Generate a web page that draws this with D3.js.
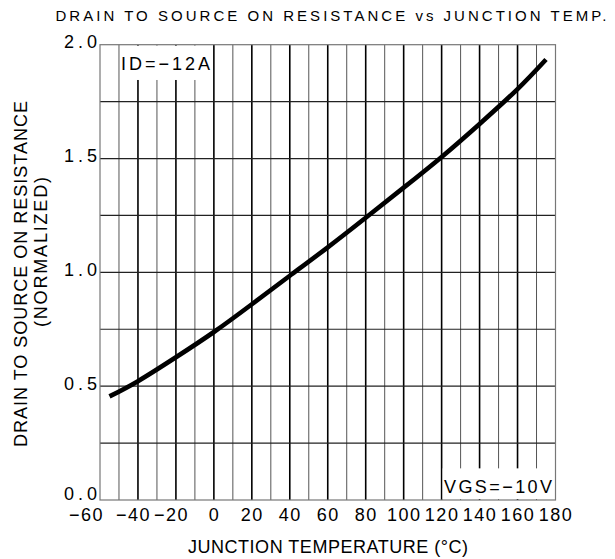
<!DOCTYPE html>
<html>
<head>
<meta charset="utf-8">
<script src="https://cdn.jsdelivr.net/npm/d3@7"></script>
<style>
  body { margin: 0; background: #fff; }
  text { font-family: 'Liberation Sans', 'DejaVu Sans', sans-serif; fill: #000; }
</style>
</head>
<body>
<div id="chart"></div>
<script>
// curve
const temps = [-55, -40, -20, 0, 20, 40, 60, 80, 100, 120, 140, 160, 175];
const resist = [0.455, 0.522, 0.627, 0.738, 0.86, 0.985, 1.11, 1.24, 1.372, 1.507, 1.652, 1.805, 1.935];

const xTicks = [-60, -40, -20, 0, 20, 40, 60, 80, 100, 120, 140, 160, 180];
const yTicks = [0, 0.5, 1.0, 1.5, 2.0];
const xGrid = d3.range(-50, 180, 10);
const yGrid = [0.25, 0.5, 0.75, 1.0, 1.25, 1.5, 1.75];

const width = 615;
const height = 559;
const plotLeft = 100, plotRight = 555.5, plotTop = 44.7, plotBottom = 500;

const x = d3.scaleLinear().domain([-60, 180]).range([plotLeft, plotRight]);
const y = d3.scaleLinear().domain([0, 2.0]).range([plotBottom, plotTop]);

const svg = d3.select('#chart').append('svg')
  .attr('width', width)
  .attr('height', height);

/* grid */
svg.append('g')
  .selectAll('line')
  .data(xGrid)
  .enter()
  .append('line')
  .attr('x1', d => x(d)).attr('x2', d => x(d))
  .attr('y1', plotTop).attr('y2', plotBottom)
  .style('stroke', d => d % 20 == 0 ? '#000' : '#555')
  .style('stroke-width', d => d % 20 == 0 ? 1.6 : 1);

svg.append('g')
  .selectAll('line')
  .data(yGrid)
  .enter()
  .append('line')
  .attr('x1', plotLeft).attr('x2', plotRight)
  .attr('y1', d => y(d)).attr('y2', d => y(d))
  .style('stroke', '#222')
  .style('stroke-width', 1.2);

// white boxes behind the two notes
svg.append('rect')
  .attr('x', x(-50) + 1).attr('y', plotTop + 1)
  .attr('width', x(0) - x(-50) - 2).attr('height', y(1.845) - plotTop - 1)
  .style('fill', '#fff');
svg.append('rect')
  .attr('x', x(120) + 1).attr('y', y(0.139))
  .attr('width', x(180) - x(120) - 2).attr('height', plotBottom - y(0.139) - 1)
  .style('fill', '#fff');

svg.append('rect')
  .attr('x', plotLeft).attr('y', plotTop)
  .attr('width', plotRight - plotLeft).attr('height', plotBottom - plotTop)
  .style('fill', 'none')
  .style('stroke', '#777')
  .style('stroke-width', 1.2);

/* axes */
const xAxis = svg.append('g')
  .attr('transform', `translate(0, ${plotBottom})`)
  .call(d3.axisBottom(x).tickValues(xTicks).tickSize(0).tickPadding(8)
    .tickFormat(d => d < 0 ? '\u2212' + Math.abs(d) : String(d)));
xAxis.select('.domain').remove();
xAxis.selectAll('text')
  .style('font-size', '18px')
  .style('letter-spacing', '1.5px')
  .attr('dx', d => d == -60 ? -14 : (d < 0 ? -5 : 0));

const yAxis = svg.append('g')
  .attr('transform', `translate(${plotLeft - 3}, 0)`)
  .call(d3.axisLeft(y).tickValues(yTicks).tickSize(0).tickPadding(0)
    .tickFormat(d3.format('.1f')));
yAxis.select('.domain').remove();
yAxis.selectAll('text')
  .style('font-size', '18px')
  .attr('dy', d => d == 0 ? '-0.02em' : '0.18em')
  .attr('textLength', 33)
  .attr('lengthAdjust', 'spacing');

/* curve */
const line = d3.line()
  .x((d, i) => x(temps[i]))
  .y(d => y(d))
  .curve(d3.curveNatural);

svg.append('path')
  .datum(resist)
  .attr('d', line)
  .style('fill', 'none')
  .style('stroke', '#000')
  .style('stroke-width', 4.6);

/* labels */
svg.append('text')
  .attr('x', 331).attr('y', 21)
  .attr('text-anchor', 'middle')
  .attr('textLength', 551).attr('lengthAdjust', 'spacing')
  .style('font-size', '15px')
  .text('DRAIN TO SOURCE ON RESISTANCE vs JUNCTION TEMP.');

svg.append('text')
  .attr('x', 328).attr('y', 553)
  .attr('text-anchor', 'middle')
  .attr('textLength', 280).attr('lengthAdjust', 'spacing')
  .style('font-size', '18px')
  .text('JUNCTION TEMPERATURE (\u00b0C)');

svg.append('text')
  .attr('transform', 'translate(27, 274) rotate(-90)')
  .attr('text-anchor', 'middle')
  .attr('textLength', 346).attr('lengthAdjust', 'spacing')
  .style('font-size', '18px')
  .text('DRAIN TO SOURCE ON RESISTANCE');

svg.append('text')
  .attr('transform', 'translate(47, 252) rotate(-90)')
  .attr('text-anchor', 'middle')
  .attr('textLength', 150).attr('lengthAdjust', 'spacing')
  .style('font-size', '18px')
  .text('(NORMALIZED)');

svg.append('text')
  .attr('x', 121).attr('y', 70)
  .attr('textLength', 89).attr('lengthAdjust', 'spacing')
  .style('font-size', '18px')
  .text('ID=\u221212A');

svg.append('text')
  .attr('x', 444).attr('y', 493)
  .attr('textLength', 108).attr('lengthAdjust', 'spacing')
  .style('font-size', '18px')
  .text('VGS=\u221210V');
</script>
</body>
</html>
